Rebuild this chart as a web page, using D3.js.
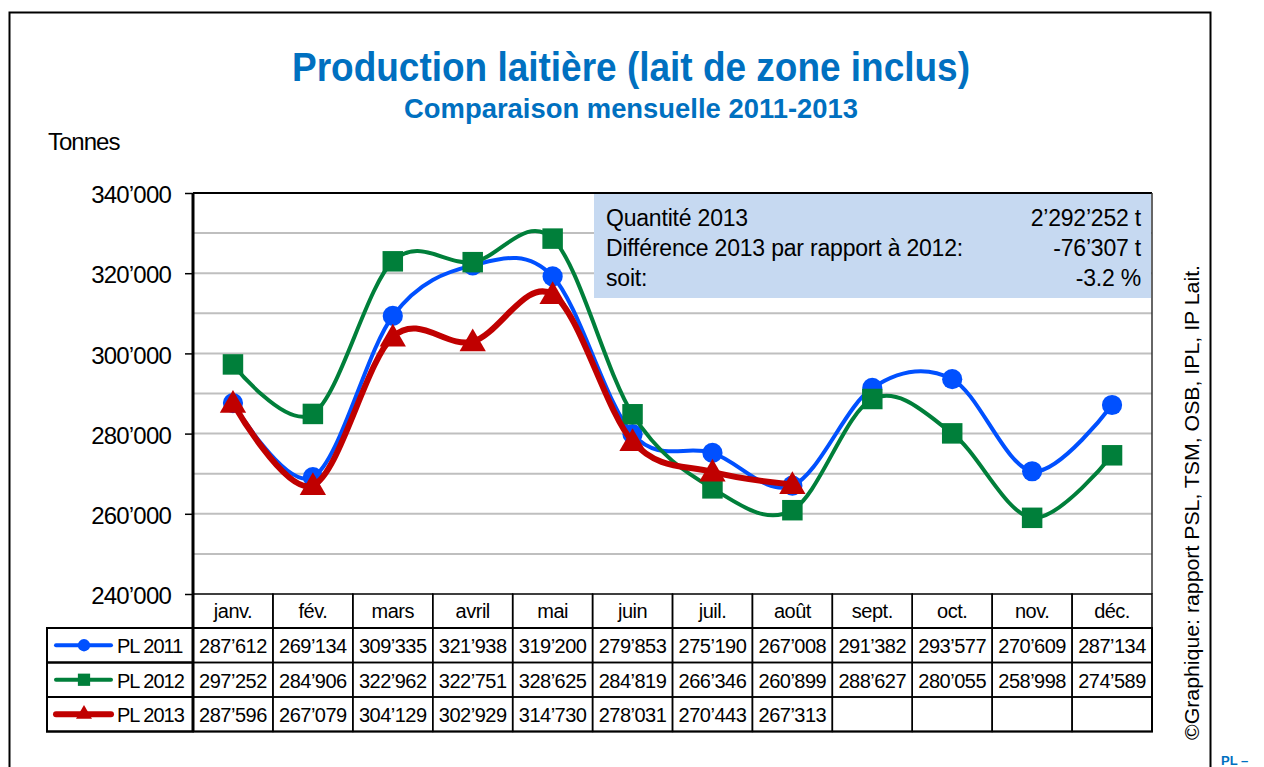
<!DOCTYPE html>
<html>
<head>
<meta charset="utf-8">
<title>Production laitière</title>
<script src="https://cdn.jsdelivr.net/npm/d3@7"></script>
<style>
  body{margin:0;background:#fff;}
  svg text{font-family:"Liberation Sans",Arial,sans-serif;}
</style>
</head>
<body>
<div id="container"></div>
<script>
var months = ["janv.","fév.","mars","avril","mai","juin","juil.","août","sept.","oct.","nov.","déc."];
var pl2011 = [287612,269134,309335,321938,319200,279853,275190,267008,291382,293577,270609,287134];
var pl2012 = [297252,284906,322962,322751,328625,284819,266346,260899,288627,280055,258998,274589];
var pl2013 = [287596,267079,304129,302929,314730,278031,270443,267313];
var seriesNames = ["PL 2011","PL 2012","PL 2013"];
var yTicks = [240000,260000,280000,300000,320000,340000];
var yGrid = d3.range(250000,340000,10000);
var infoLabels = ["Quantité 2013","Différence 2013 par rapport à 2012:","soit:"];
var infoValues = ["2’292’252 t","-76’307 t","-3.2 %"];

var colors = ["#0050ff","#007f3a","#c00000"];
var widths = [4,4,6];
var shapes = [d3.symbolCircle,d3.symbolSquare,d3.symbolTriangle];

var W = 1264, H = 767;
var plot = {left:193, right:1152, top:193, bottom:594};
var tbl = {left:47, rowH:34.5};

var loc = d3.formatLocale({decimal:".", thousands:"’", grouping:[3], currency:["",""]});
var fmt = loc.format(",");

var svg = d3.select("#container").append("svg")
    .attr("width", W).attr("height", H);

// outer frame
svg.append("rect").attr("x",9.5).attr("y",12.5).attr("width",1201).attr("height",H)
   .attr("fill","none").attr("stroke","#000").attr("stroke-width",2);

var x = d3.scaleBand().domain(months).range([plot.left, plot.right]);
var y = d3.scaleLinear().domain([240000,340000]).range([plot.bottom, plot.top]);

// title
svg.append("text").attr("x",631).attr("y",81).attr("text-anchor","middle")
   .attr("fill","#0070c0").attr("font-weight","bold").attr("font-size",40)
   .attr("textLength",678).attr("lengthAdjust","spacingAndGlyphs")
   .text("Production laitière (lait de zone inclus)");
svg.append("text").attr("x",631).attr("y",118).attr("text-anchor","middle")
   .attr("fill","#0070c0").attr("font-weight","bold").attr("font-size",27)
   .attr("textLength",454).attr("lengthAdjust","spacingAndGlyphs")
   .text("Comparaison mensuelle 2011-2013");

svg.append("text").attr("x",48).attr("y",150).attr("font-size",24)
   .attr("letter-spacing","-1").text("Tonnes");

// grid
svg.append("g").selectAll("line").data(yGrid).join("line")
   .attr("x1",plot.left).attr("x2",plot.right)
   .attr("y1",d=>y(d)).attr("y2",d=>y(d))
   .attr("stroke","#bfbfbf").attr("stroke-width",2);

// plot frame top/right
svg.append("line").attr("x1",plot.left).attr("x2",plot.right)
   .attr("y1",plot.top).attr("y2",plot.top).attr("stroke","#000").attr("stroke-width",2);
svg.append("line").attr("x1",plot.right).attr("x2",plot.right)
   .attr("y1",plot.top).attr("y2",plot.bottom).attr("stroke","#333").attr("stroke-width",1.5);

// y axis
var yAxis = d3.axisLeft(y).tickValues(yTicks).tickSize(8).tickPadding(14).tickFormat(fmt);
var gy = svg.append("g").attr("transform","translate("+plot.left+",0)").call(yAxis);
gy.select(".domain").remove();
gy.selectAll(".tick line").attr("stroke","#000").attr("stroke-width",1.5);
gy.selectAll(".tick text").attr("font-size",24).attr("letter-spacing","-0.8")
  .attr("fill","#000").attr("dy","0.4em").style("font-family","'Liberation Sans',Arial,sans-serif");

// info box
var box = svg.append("g");
box.append("rect").attr("x",594).attr("y",194).attr("width",plot.right-594-1).attr("height",104)
   .attr("fill","#c6d9f1");
box.selectAll(".lab").data(infoLabels).join("text").attr("class","lab")
   .attr("x",606).attr("y",(d,i)=>226+i*30).attr("font-size",23).attr("letter-spacing","-0.2")
   .text(d=>d);
box.selectAll(".val").data(infoValues).join("text").attr("class","val")
   .attr("x",1141).attr("y",(d,i)=>226+i*30).attr("font-size",23).attr("letter-spacing","-0.2")
   .attr("text-anchor","end").text(d=>d);

// lines
var line = d3.line().x((d,i)=>x(months[i])+x.bandwidth()/2).y(d=>y(d))
   .curve(d3.curveCatmullRom.alpha(0));
var allSeries = [pl2011,pl2012,pl2013];
allSeries.forEach(function(s,k){
  var g = svg.append("g");
  g.append("path").datum(s).attr("d",line).attr("fill","none")
   .attr("stroke",colors[k]).attr("stroke-width",widths[k]);
  g.selectAll("path.m").data(s).join("path").attr("class","m")
   .attr("transform",(d,i)=>"translate("+(x(months[i])+x.bandwidth()/2)+","+(y(d)+(k==2?2:0))+")")
   .attr("d",d3.symbol().type(shapes[k]).size(k==0?320:(k==1?420:300)))
   .attr("fill",colors[k]);
});

// table
var tg = svg.append("g");
var hTop = plot.bottom, hBot = plot.bottom+34;
tg.selectAll(".hdr").data(months).join("rect").attr("class","hdr")
  .attr("x",d=>x(d)).attr("y",hTop).attr("width",x.bandwidth()).attr("height",hBot-hTop)
  .attr("fill","none").attr("stroke","#000").attr("stroke-width",1.5);
tg.selectAll(".mlab").data(months).join("text").attr("class","mlab")
  .attr("x",d=>x(d)+x.bandwidth()/2).attr("y",hTop+24).attr("text-anchor","middle")
  .attr("font-size",20).attr("letter-spacing","-0.5").text(d=>d);

allSeries.forEach(function(s,k){
  var ry = hBot + k*tbl.rowH;
  tg.append("rect").attr("x",tbl.left).attr("y",ry).attr("width",plot.left-tbl.left).attr("height",tbl.rowH)
    .attr("fill","none").attr("stroke","#000").attr("stroke-width",2);
  tg.selectAll(".c"+k).data(months).join("rect").attr("class","c"+k)
    .attr("x",d=>x(d)).attr("y",ry).attr("width",x.bandwidth()).attr("height",tbl.rowH)
    .attr("fill","none").attr("stroke","#000").attr("stroke-width",1.5);
  tg.selectAll(".v"+k).data(s).join("text").attr("class","v"+k)
    .attr("x",(d,i)=>x(months[i])+x.bandwidth()/2).attr("y",ry+25).attr("text-anchor","middle")
    .attr("font-size",20).attr("letter-spacing","-0.5").text(d=>fmt(d));
  var cy = ry + tbl.rowH/2;
  tg.append("line").attr("x1",56).attr("x2",111).attr("y1",cy).attr("y2",cy)
    .attr("stroke",colors[k]).attr("stroke-width",k==2?6:4).attr("stroke-linecap","round");
  tg.append("path").attr("transform","translate(84,"+cy+")")
    .attr("d",d3.symbol().type(shapes[k]).size(k==0?120:(k==1?150:110))).attr("fill",colors[k]);
  tg.append("text").attr("x",117).attr("y",ry+25).attr("font-size",20).attr("letter-spacing","-1")
    .text(seriesNames[k]);
});
// outer table border
tg.append("rect").attr("x",tbl.left).attr("y",hBot).attr("width",plot.right-tbl.left).attr("height",tbl.rowH*3)
  .attr("fill","none").attr("stroke","#000").attr("stroke-width",2);

// thick left axis line running through the table
svg.append("line").attr("x1",plot.left).attr("x2",plot.left).attr("y1",plot.top).attr("y2",hBot+tbl.rowH*3)
   .attr("stroke","#000").attr("stroke-width",3);

// source
svg.append("text").attr("transform","translate(1199,740) rotate(-90)")
   .attr("font-size",21).attr("textLength",475).attr("lengthAdjust","spacingAndGlyphs")
   .text("©Graphique: rapport PSL, TSM, OSB, IPL, IP Lait.");

svg.append("text").attr("x",1221).attr("y",765).attr("font-size",13).attr("font-weight","bold")
   .attr("fill","#0070c0").text("PL –");
</script>
</body>
</html>
